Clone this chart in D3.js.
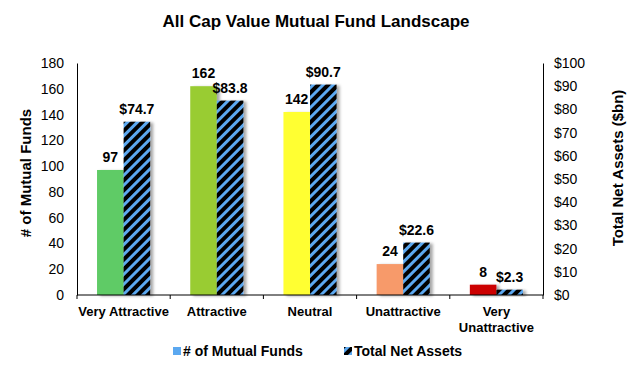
<!DOCTYPE html>
<html><head><meta charset="utf-8">
<script src="https://cdn.jsdelivr.net/npm/d3@7"></script>
<style>body{margin:0;background:#fff}svg{display:block;font-family:"Liberation Sans",Arial,sans-serif}</style>
</head><body><div id="chart"></div>
<script>
const categories = ["Very Attractive","Attractive","Neutral","Unattractive","Very Unattractive"];
const fundCounts = [97,162,142,24,8];
const netAssets = [74.7,83.8,90.7,22.6,2.3];
const barColors = ["#5fcb66","#99cc33","#ffff33","#f79a6b","#cc0000"];
const leftTicks = [0,20,40,60,80,100,120,140,160,180];
const rightTicks = [0,10,20,30,40,50,60,70,80,90,100];

const W=630,H=368;
const m={l:77,r:87,t:63,b:73};
const svg=d3.select("#chart").append("svg").attr("width",W).attr("height",H);
const defs=svg.append("defs");
const pat=defs.append("pattern").attr("id","hatch").attr("patternUnits","userSpaceOnUse")
  .attr("width",7).attr("height",7).attr("patternTransform","rotate(45)");
pat.append("rect").attr("width",7).attr("height",7).attr("fill","#000");
pat.append("rect").attr("width",3).attr("height",7).attr("fill","#5ba8f0");
const f=defs.append("filter").attr("id","sh").attr("x","-20%").attr("y","-20%").attr("width","160%").attr("height","140%");
f.append("feDropShadow").attr("dx",3).attr("dy",1).attr("stdDeviation",1.5).attr("flood-color","#000").attr("flood-opacity",0.35);

const x=d3.scaleBand().domain(categories).range([m.l,W-m.r]).paddingInner(0.43).paddingOuter(0.215);
const yL=d3.scaleLinear().domain([0,180]).range([H-m.b,m.t]);
const yR=d3.scaleLinear().domain([0,100]).range([H-m.b,m.t]);
const bw=x.bandwidth()/2;

const g=svg.append("g");
categories.forEach((c,i)=>{
  g.append("rect").attr("x",x(c)).attr("y",yL(fundCounts[i])).attr("width",bw)
   .attr("height",yL(0)-yL(fundCounts[i])).attr("fill",barColors[i]).attr("filter","url(#sh)");
  g.append("rect").attr("x",x(c)+bw).attr("y",yR(netAssets[i])).attr("width",bw)
   .attr("height",yR(0)-yR(netAssets[i])).attr("fill","url(#hatch)").attr("filter","url(#sh)");
  g.append("text").attr("x",x(c)+bw/2).attr("y",yL(fundCounts[i])-8).attr("text-anchor","middle")
   .attr("font-size",14).attr("font-weight","bold").text(fundCounts[i]);
  g.append("text").attr("x",x(c)+bw*1.5).attr("y",yR(netAssets[i])-8).attr("text-anchor","middle")
   .attr("font-size",14).attr("font-weight","bold").text("$"+netAssets[i].toFixed(1));
});

// axes
const ax=svg.append("g").attr("transform",`translate(${m.l},0)`)
  .call(d3.axisLeft(yL).tickValues(leftTicks).tickSize(0).tickPadding(13));
ax.select(".domain").attr("stroke","#000");
ax.selectAll("text").attr("font-size",14).attr("font-family","Liberation Sans, Arial").attr("fill","#000");
const axr=svg.append("g").attr("transform",`translate(${W-m.r},0)`)
  .call(d3.axisRight(yR).tickValues(rightTicks).tickSize(0).tickPadding(11).tickFormat(d=>"$"+d));
axr.select(".domain").attr("stroke","#000");
axr.selectAll("text").attr("font-size",14).attr("font-family","Liberation Sans, Arial").attr("fill","#000");
// x axis
const xa=svg.append("g").attr("transform",`translate(0,${H-m.b})`);
xa.append("line").attr("x1",m.l).attr("x2",W-m.r).attr("stroke","#000");
const step=(W-m.r-m.l)/categories.length;
d3.range(categories.length+1).forEach(i=>{
  xa.append("line").attr("x1",m.l+i*step).attr("x2",m.l+i*step).attr("y1",0).attr("y2",4).attr("stroke","#000");
});
categories.forEach((c,i)=>{
  const cx=x(c)+x.bandwidth()/2;
  const t=xa.append("text").attr("text-anchor","middle").attr("font-size",13).attr("font-weight","bold");
  if(c==="Very Unattractive"){
    t.append("tspan").attr("x",cx).attr("y",21).text("Very");
    t.append("tspan").attr("x",cx).attr("y",37).text("Unattractive");
  } else t.attr("x",cx).attr("y",21).text(c);
});

svg.append("text").attr("x",316).attr("y",27).attr("text-anchor","middle").attr("font-size",17)
  .attr("font-weight","bold").text("All Cap Value Mutual Fund Landscape");
svg.append("text").attr("transform","translate(31,173) rotate(-90)").attr("text-anchor","middle")
  .attr("font-size",15).attr("font-weight","bold").text("# of Mutual Funds");
svg.append("text").attr("transform","translate(623,168) rotate(-90)").attr("text-anchor","middle")
  .attr("font-size",15).attr("font-weight","bold").text("Total Net Assets ($bn)");

// legend
const lg=svg.append("g").attr("font-size",14).attr("font-weight","bold");
lg.append("rect").attr("x",173).attr("y",347).attr("width",8).attr("height",8).attr("fill","#5ba8f0");
lg.append("text").attr("x",183).attr("y",356).text("# of Mutual Funds");
lg.append("rect").attr("x",344).attr("y",347).attr("width",8).attr("height",8).attr("fill","url(#hatch)");
lg.append("text").attr("x",354).attr("y",356).text("Total Net Assets");
</script></body></html>
